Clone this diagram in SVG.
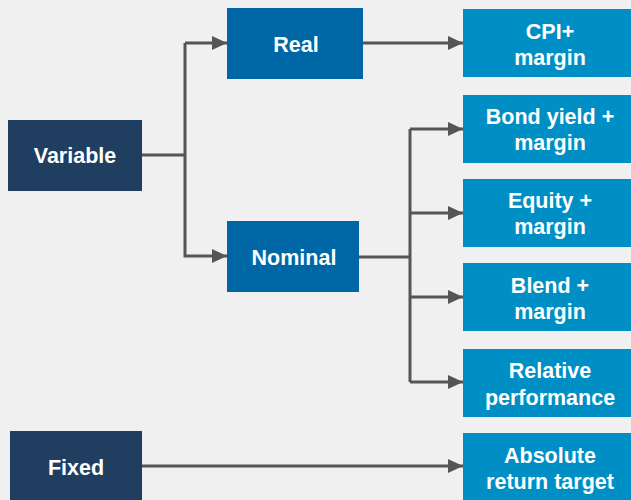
<svg xmlns="http://www.w3.org/2000/svg" width="631" height="500" viewBox="0 0 631 500">
<defs>
<style>
.bg{fill:#f0f0f0}
.dark{fill:#203f60}
.mid{fill:#0067a7}
.light{fill:#008fc5}
text{font-family:"Liberation Sans",Arial,sans-serif;font-weight:bold;font-size:21.5px;fill:#ffffff;text-anchor:middle}
.c{fill:none;stroke:#555555;stroke-width:3}
</style>
<marker id="ah" markerWidth="15" markerHeight="14" refX="15" refY="7" orient="auto" markerUnits="userSpaceOnUse">
<path d="M0,0 L15,7 L0,14 Z" fill="#555555"/>
</marker>
</defs>
<rect class="bg" x="0" y="0" width="631" height="500"/>
<g id="connectors">
<path class="c" d="M142,155 H185"/>
<path class="c" d="M185,43 V256 H227" marker-end="url(#ah)"/>
<path class="c" d="M185,43 H227" marker-end="url(#ah)"/>
<path class="c" d="M363,43 H463" marker-end="url(#ah)"/>
<path class="c" d="M359,257 H410"/>
<path class="c" d="M410,129 V382"/>
<path class="c" d="M410,129 H463" marker-end="url(#ah)"/>
<path class="c" d="M410,213 H463" marker-end="url(#ah)"/>
<path class="c" d="M410,297 H463" marker-end="url(#ah)"/>
<path class="c" d="M410,382 H463" marker-end="url(#ah)"/>
<path class="c" d="M142,466 H463" marker-end="url(#ah)"/>
</g>
<g id="variable"><rect class="dark" x="8" y="120" width="134" height="71"/><text x="75" y="163">Variable</text></g>
<g id="fixed"><rect class="dark" x="10" y="431" width="132" height="69"/><text x="76" y="475">Fixed</text></g>
<g id="real"><rect class="mid" x="227" y="8" width="136" height="71"/><text x="296" y="52">Real</text></g>
<g id="nominal"><rect class="mid" x="227" y="221" width="132" height="71"/><text x="294" y="265">Nominal</text></g>
<g id="cpi"><rect class="light" x="463" y="9" width="168" height="68"/><text x="550" y="39">CPI+</text><text x="550" y="65">margin</text></g>
<g id="bond"><rect class="light" x="463" y="95" width="168" height="68"/><text x="550" y="124">Bond yield +</text><text x="550" y="150">margin</text></g>
<g id="equity"><rect class="light" x="463" y="179" width="168" height="68"/><text x="550" y="208">Equity +</text><text x="550" y="234">margin</text></g>
<g id="blend"><rect class="light" x="463" y="263" width="168" height="68"/><text x="550" y="293">Blend +</text><text x="550" y="319">margin</text></g>
<g id="relative"><rect class="light" x="463" y="349" width="168" height="68"/><text x="550" y="378">Relative</text><text x="550" y="405">performance</text></g>
<g id="absolute"><rect class="light" x="463" y="433" width="168" height="67"/><text x="550" y="463">Absolute</text><text x="550" y="489">return target</text></g>
</svg>
